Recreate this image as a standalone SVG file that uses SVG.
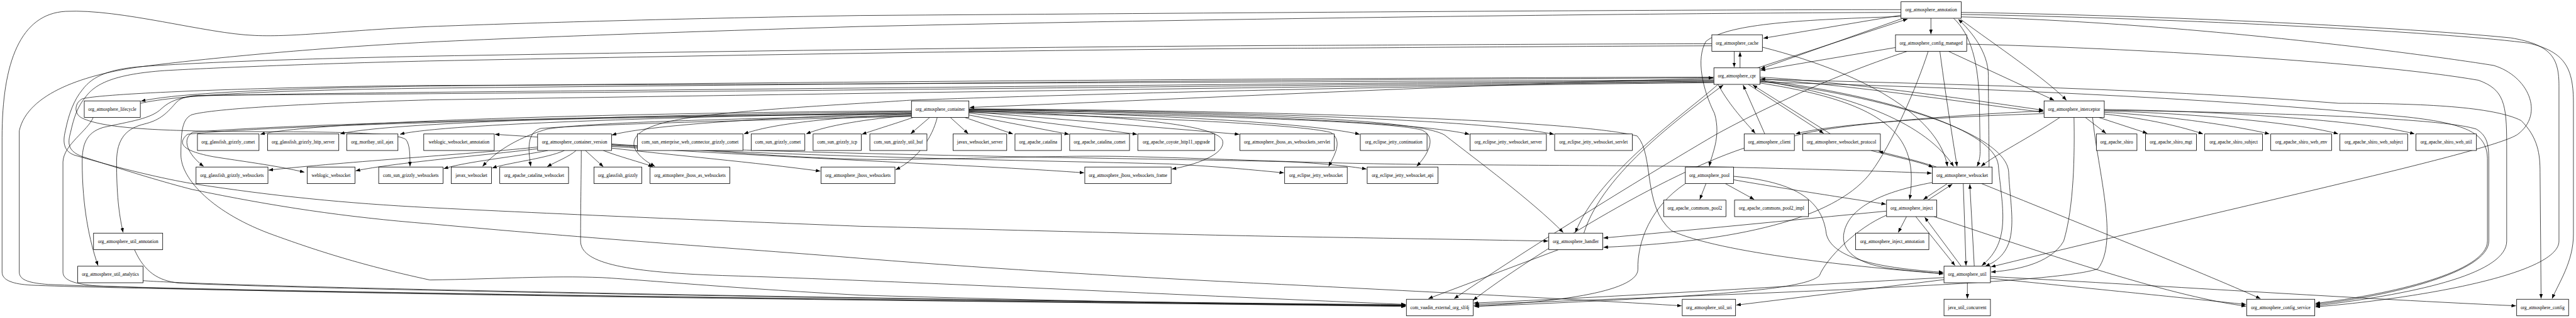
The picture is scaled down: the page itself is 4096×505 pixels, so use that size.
<svg xmlns="http://www.w3.org/2000/svg" width="4096" height="505" viewBox="0 0 4096 505">
<style>
#connectors path{fill:none;stroke:#000;stroke-width:1.3;marker-end:url(#a)}
.node rect{fill:#fff;stroke:#000;stroke-width:1.5}
.node text{font-family:"Liberation Serif","Times New Roman",serif;font-size:13.5px;text-anchor:middle;fill:#000}
</style>
<defs>
<marker id="a" markerUnits="userSpaceOnUse" markerWidth="14" markerHeight="10" refX="13" refY="5" orient="auto"><path d="M0,0 L13,5 L0,10 z" fill="#000"/></marker>
</defs>
<rect x="0" y="0" width="4096" height="505" fill="#fff"/>
<g transform="scale(0.5469)">
<g id="connectors">
<!-- container -->
<path d="M2650,322 C2100,325 950,345 757,390"/>
<path d="M2650,324 C2150,330 1150,348 989,389"/>
<path d="M2650,326 C2200,335 1300,355 1163,390"/>
<path d="M2650,329 C2300,338 1900,360 1779,392"/>
<path d="M2650,332 C2420,340 2240,360 2163,389"/>
<path d="M2650,335 C2520,345 2400,365 2344,389"/>
<path d="M2655,341 C2600,360 2540,378 2506,390"/>
<path d="M2703,341 L2648,388"/>
<path d="M2763,341 L2815,388"/>
<path d="M2805,341 L2945,389"/>
<path d="M2817,334 L3108,390"/>
<path d="M2817,328 L3306,390"/>
<path d="M2817,324 L3603,390"/>
<path d="M2817,321 C3300,330 3800,355 3953,390"/>
<path d="M2817,319 C3400,327 4100,350 4272,390"/>
<path d="M2817,317 C3500,322 4300,345 4518,390"/>
<path d="M2725,341 C2710,400 2670,460 2604,493"/>
<path d="M2817,322 C3250,335 3545,360 3555,410 C3562,450 3470,480 3407,491"/>
<path d="M2817,326 C3300,340 3780,360 3870,385 C3905,410 3880,450 3863,483"/>
<path d="M2817,323 C3500,335 4050,352 4135,378 C4180,400 4150,450 4119,483"/>
<path d="M2817,318 C3600,328 4120,345 4200,392 C4300,470 4450,580 4545,675"/>
<path d="M2817,316 C3800,322 4600,352 4760,395 C4810,450 4775,600 4860,670 C5000,735 5400,775 5650,795"/>
<path d="M2650,336 C2200,342 1700,355 1590,375 C1540,390 1460,420 1403,483"/>
<path d="M2650,338 C2200,348 1700,362 1572,373 C1532,385 1535,430 1543,483"/>
<path d="M2650,330 C2000,333 900,355 560,384 C520,410 560,460 592,483"/>
<path d="M2650,331 C1800,338 800,362 545,390 C510,420 540,440 620,455 C700,468 800,480 885,500"/>
<!-- container_version -->
<path d="M1563,398 L1439,390"/>
<path d="M1563,427 C1400,445 1000,470 781,494"/>
<path d="M1563,432 C1400,452 1150,472 1034,496"/>
<path d="M1593,437 C1500,455 1350,470 1290,490"/>
<path d="M1641,437 C1590,460 1480,472 1431,488"/>
<path d="M1675,437 C1655,455 1615,470 1591,484"/>
<path d="M1702,437 L1754,484"/>
<path d="M1754,437 C1800,455 1860,470 1898,484"/>
<path d="M1778,430 C1950,450 2200,472 2385,497"/>
<path d="M1690,437 C1690,500 1688,600 1688,700 C1688,760 1800,790 2100,800 C2600,815 3500,860 4087,884"/>
<path d="M1778,425 C2300,460 2900,482 3152,502"/>
<path d="M1778,422 C2300,455 3000,466 3400,476 C3550,484 3650,494 3733,502"/>
<path d="M1778,420 C2400,452 3500,462 3750,470 C3850,475 3920,482 3973,491"/>
<path d="M1778,418 C2100,440 2400,466 2600,463 C2900,460 3100,450 3300,455 C3600,462 3800,475 4200,478 C4600,481 4850,481 5050,486 C5300,492 5500,498 5616,503"/>
<!-- cpr long edges to the left -->
<path d="M4983,224 C4000,226 2600,236 1250,250 C800,256 500,272 410,294"/>
<path d="M408,300 C520,275 800,262 1250,256 C2600,242 4000,230 4981,226"/>
<path d="M4983,232 C4000,236 2600,244 1250,248 C800,252 300,270 239,287 C215,300 215,332 239,343 C300,372 450,380 700,382 C1000,383 1150,385 1180,405 C1192,420 1192,450 1192,483"/>
<path d="M4983,234 C4000,240 2600,255 1250,268 C900,272 600,276 558,280 C520,285 494,293 470,315 C440,345 380,352 300,370 C250,385 239,420 239,470 C239,600 260,700 285,771"/>
<path d="M4983,236 C4000,244 2600,262 1250,272 C900,275 650,276 574,277 C530,280 520,290 510,300 C480,335 460,350 420,360 C370,372 339,400 339,470 C339,560 345,620 358,675"/>
<path d="M4983,238 C4000,248 2600,270 1250,290 C900,300 620,315 558,333 C530,345 526,380 526,450 C526,520 620,620 797,683 C900,720 1036,767 1250,813 C1450,810 1600,800 1750,806 C1900,815 2100,835 2500,857 C3000,872 3500,882 4087,888"/>
<path d="M4983,228 C4400,240 3500,285 2819,312"/>
<path d="M4983,240 C4000,249 3000,278 2645,291 C2550,298 2300,310 2100,330 C1900,350 1830,380 1845,430 C1860,460 1890,475 1904,483"/>
<!-- cache / annotation loops -->
<path d="M4977,127 C4400,128 3900,132 3750,132 C3000,136 2000,150 1250,163 C900,170 600,180 415,193 C320,200 270,220 240,260 C215,290 200,330 190,380 C180,420 190,440 215,450 C350,490 480,520 558,533 C800,570 1000,590 1250,603 C1800,630 2200,645 2500,657 C3100,672 3500,683 3750,687 C4100,693 4350,697 4501,700"/>
<path d="M4977,133 C4400,135 3900,140 3750,140 C3000,145 2000,162 1250,177 C900,185 600,198 478,205 C340,215 280,240 250,280 C225,310 215,340 205,385 C195,420 200,440 240,455 C380,500 480,530 558,550 C800,600 1000,630 1250,650 C1800,700 2200,725 2500,750 C3000,790 3500,815 3750,827 C4200,850 4600,870 4889,888"/>
<path d="M5527,28 C4800,28 3500,38 2500,45 C1900,55 1500,68 1250,77 C1000,88 860,108 741,103 C600,98 350,25 191,33 C60,40 6,180 6,400 L6,790 C6,815 40,825 90,828 C500,845 2500,870 4087,890"/>
<path d="M5527,36 C4800,38 3500,55 2500,77 C1900,95 1500,110 1250,122 C900,140 600,170 415,193 C250,215 80,270 56,380 L56,790 C56,815 90,822 140,826 C600,845 2500,872 4087,886"/>
<path d="M271,341 C255,380 185,420 183,470 L183,790 C183,815 220,825 280,830 C700,850 2500,874 4087,888"/>
<path d="M391,725 C420,790 460,815 520,822 C900,840 2500,870 4087,885"/>
<path d="M416,815 C700,835 2500,868 4087,887"/>
<!-- right hub -->
<path d="M5527,44 L5127,111"/>
<path d="M5614,53 L5614,99"/>
<path d="M5533,53 L5119,200"/>
<path d="M5110,197 L5546,55"/>
<path d="M5511,138 L5119,204"/>
<path d="M5700,56 C5800,130 5950,230 6008,291"/>
<path d="M5665,149 L5972,291"/>
<path d="M5042,149 L5042,195"/>
<path d="M5059,197 L5059,151"/>
<path d="M4995,245 C5030,310 5080,360 5103,387"/>
<path d="M5131,389 L5068,247"/>
<path d="M5083,245 L5302,387"/>
<path d="M5322,389 L5096,247"/>
<path d="M5117,224 C5400,240 5800,300 5941,320"/>
<path d="M5943,326 C5800,310 5400,248 5119,229"/>
<path d="M5943,330 C5600,340 5300,365 5221,389"/>
<path d="M5217,395 C5300,368 5600,338 5941,322"/>
<path d="M6063,341 L6123,387"/>
<path d="M6102,341 L6243,387"/>
<path d="M6118,331 C6250,345 6350,370 6405,389"/>
<path d="M6118,326 C6300,336 6500,365 6598,389"/>
<path d="M6118,322 C6400,330 6700,360 6798,389"/>
<path d="M6118,318 C6500,323 6900,355 7020,389"/>
<path d="M6118,320 C6600,327 7100,342 7200,375 C7232,395 7236,420 7236,470 L7236,700 C7236,790 6950,860 6732,884"/>
<path d="M5718,128 C6200,140 6900,180 7206,233 C7280,260 7288,300 7288,420 L7288,700 C7288,790 7050,850 6732,888"/>
<path d="M5702,36 C6300,45 7000,80 7300,110 C7420,130 7440,170 7440,250 L7440,700 C7440,800 7000,870 6732,891"/>
<path d="M5702,42 C6300,52 7100,92 7350,125 C7460,150 7482,200 7482,300 L7482,680 C7482,760 7440,820 7420,867"/>
<path d="M5702,49 C6300,62 7000,150 7250,190 C7350,220 7400,330 7320,390 C7250,440 6500,600 5789,775"/>
<path d="M5117,238 C5700,255 6400,280 7000,340 C7180,360 7230,390 7232,460 L7232,700 C7232,790 6950,855 6732,881"/>
<path d="M5117,230 C5700,245 6300,260 6800,300 C7050,300 7250,310 7330,350 C7380,400 7385,450 7385,500 L7388,867"/>
<path d="M5787,803 C6200,825 6900,870 7315,888"/>
<path d="M5787,808 C6100,840 6350,865 6530,884"/>
<path d="M5761,533 C6000,630 6400,790 6572,867"/>
<path d="M5623,629 C5900,720 6300,860 6530,889"/>
<path d="M4960,533 L4942,579"/>
<path d="M5016,533 L5100,579"/>
<path d="M5040,522 C5200,550 5400,580 5483,593"/>
<path d="M5040,512 C5250,530 5300,600 5310,680 C5330,760 5500,780 5650,791"/>
<path d="M4900,533 C4800,600 4760,700 4762,783 C4760,850 4500,880 4285,888"/>
<path d="M5662,533 L5592,579"/>
<path d="M5605,581 L5676,535"/>
<path d="M5708,533 L5716,771"/>
<path d="M5740,773 L5727,535"/>
<path d="M5570,629 L5684,771"/>
<path d="M5702,773 L5596,631"/>
<path d="M5543,629 L5519,675"/>
<path d="M5720,821 L5720,867"/>
<path d="M5652,812 L5048,886"/>
<path d="M5652,806 C5200,830 4700,862 4285,880"/>
<path d="M5618,530 C5480,555 5370,600 5360,683 C5355,740 5420,770 5500,780 C5570,788 5620,792 5650,795"/>
<path d="M5485,625 C5400,660 5310,750 5290,800 C5250,840 5000,860 4287,890"/>
<path d="M5485,613 C5200,640 4900,670 4662,691"/>
<path d="M6030,341 C6032,450 6030,600 6000,700 C5960,770 5850,785 5789,790"/>
<path d="M6084,341 C6100,500 6160,700 6100,780 C6000,820 5300,845 4287,884"/>
<path d="M5989,341 C5900,400 5800,450 5760,483"/>
<path d="M5630,485 C5560,462 5500,450 5462,439"/>
<path d="M5440,437 C5520,458 5590,472 5620,486"/>
<path d="M5071,430 C4800,520 4400,780 4283,872"/>
<path d="M5124,137 C5450,220 5640,350 5662,483"/>
<path d="M5640,149 C5660,300 5680,420 5690,483"/>
<path d="M5545,149 C5300,230 5100,330 4990,390 C4700,560 4400,750 4228,867"/>
<path d="M5606,149 C5574,250 5500,420 5440,500 C5350,620 5100,700 4662,718"/>
<path d="M4995,245 C4900,330 4650,500 4580,675"/>
<path d="M4605,677 C4660,500 4900,330 5010,247"/>
<path d="M4531,725 L4153,867"/>
<path d="M5527,48 C5200,58 5020,72 4960,120 C4930,170 4950,260 4985,330 C5005,400 4975,450 4970,483"/>
<path d="M5117,241 C5500,300 5580,400 5552,579"/>
<path d="M5117,232 C5500,280 5800,380 5810,480 C5820,600 5850,700 5762,771"/>
<path d="M5117,236 C5550,290 5835,400 5840,500 C5845,620 5880,730 5772,773"/>
<path d="M5117,234 C5400,280 5600,360 5680,483"/>
<path d="M5680,53 C5730,100 5752,180 5755,300 L5757,440 C5757,460 5752,475 5748,483"/>
<path d="M5783,485 C5783,420 5781,300 5781,220 C5781,150 5730,90 5694,56"/>
</g>
<g id="n_lifecycle" class="node"><rect x="245" y="293" width="163" height="48"/><text x="326.5" y="321.5">org_atmosphere_lifecycle</text></g>
<g id="n_gg_comet" class="node"><rect x="574" y="389" width="179" height="48"/><text x="663.5" y="417.5">org_glassfish_grizzly_comet</text></g>
<g id="n_gg_http" class="node"><rect x="778" y="389" width="207" height="48"/><text x="881.5" y="417.5">org_glassfish_grizzly_http_server</text></g>
<g id="n_mortbay" class="node"><rect x="1008" y="389" width="149" height="48"/><text x="1082.5" y="417.5">org_mortbay_util_ajax</text></g>
<g id="n_wl_annot" class="node"><rect x="1232" y="389" width="205" height="48"/><text x="1334.5" y="417.5">weblogic_websocket_annotation</text></g>
<g id="n_cversion" class="node"><rect x="1563" y="389" width="215" height="48"/><text x="1670.5" y="417.5">org_atmosphere_container_version</text></g>
<g id="n_cs_ent" class="node"><rect x="1853" y="389" width="307" height="48"/><text x="2006.5" y="417.5">com_sun_enterprise_web_connector_grizzly_comet</text></g>
<g id="n_cs_comet" class="node"><rect x="2184" y="389" width="156" height="48"/><text x="2262" y="417.5">com_sun_grizzly_comet</text></g>
<g id="n_cs_tcp" class="node"><rect x="2364" y="389" width="140" height="48"/><text x="2434" y="417.5">com_sun_grizzly_tcp</text></g>
<g id="n_cs_buf" class="node"><rect x="2529" y="389" width="166" height="48"/><text x="2612" y="417.5">com_sun_grizzly_util_buf</text></g>
<g id="n_jx_wss" class="node"><rect x="2771" y="389" width="156" height="48"/><text x="2849" y="417.5">javax_websocket_server</text></g>
<g id="n_catalina" class="node"><rect x="2951" y="389" width="135" height="48"/><text x="3018.5" y="417.5">org_apache_catalina</text></g>
<g id="n_cat_comet" class="node"><rect x="3110" y="389" width="174" height="48"/><text x="3197" y="417.5">org_apache_catalina_comet</text></g>
<g id="n_coyote" class="node"><rect x="3308" y="389" width="224" height="48"/><text x="3420" y="417.5">org_apache_coyote_http11_upgrade</text></g>
<g id="n_jbas_servlet" class="node"><rect x="3605" y="389" width="274" height="48"/><text x="3742" y="417.5">org_atmosphere_jboss_as_websockets_servlet</text></g>
<g id="n_jetty_cont" class="node"><rect x="3955" y="389" width="194" height="48"/><text x="4052" y="417.5">org_eclipse_jetty_continuation</text></g>
<g id="n_jetty_wss" class="node"><rect x="4274" y="389" width="222" height="48"/><text x="4385" y="417.5">org_eclipse_jetty_websocket_server</text></g>
<g id="n_jetty_wsservlet" class="node"><rect x="4520" y="389" width="226" height="48"/><text x="4633" y="417.5">org_eclipse_jetty_websocket_servlet</text></g>
<g id="n_container" class="node"><rect x="2650" y="293" width="167" height="48"/><text x="2733.5" y="321.5">org_atmosphere_container</text></g>
<g id="n_gg_ws" class="node"><rect x="570" y="485" width="209" height="48"/><text x="674.5" y="513.5">org_glassfish_grizzly_websockets</text></g>
<g id="n_wl_ws" class="node"><rect x="893" y="485" width="139" height="48"/><text x="962.5" y="513.5">weblogic_websocket</text></g>
<g id="n_cs_ws" class="node"><rect x="1101" y="485" width="187" height="48"/><text x="1194.5" y="513.5">com_sun_grizzly_websockets</text></g>
<g id="n_jx_ws" class="node"><rect x="1312" y="485" width="117" height="48"/><text x="1370.5" y="513.5">javax_websocket</text></g>
<g id="n_cat_ws" class="node"><rect x="1453" y="485" width="200" height="48"/><text x="1553" y="513.5">org_apache_catalina_websocket</text></g>
<g id="n_gg" class="node"><rect x="1727" y="485" width="139" height="48"/><text x="1796.5" y="513.5">org_glassfish_grizzly</text></g>
<g id="n_jbas_ws" class="node"><rect x="1890" y="485" width="232" height="48"/><text x="2006" y="513.5">org_atmosphere_jboss_as_websockets</text></g>
<g id="n_jb_ws" class="node"><rect x="2387" y="485" width="215" height="48"/><text x="2494.5" y="513.5">org_atmosphere_jboss_websockets</text></g>
<g id="n_jb_frame" class="node"><rect x="3154" y="485" width="251" height="48"/><text x="3279.5" y="513.5">org_atmosphere_jboss_websockets_frame</text></g>
<g id="n_jetty_ws" class="node"><rect x="3735" y="485" width="182" height="48"/><text x="3826" y="513.5">org_eclipse_jetty_websocket</text></g>
<g id="n_jetty_api" class="node"><rect x="3975" y="485" width="206" height="48"/><text x="4078" y="513.5">org_eclipse_jetty_websocket_api</text></g>
<g id="n_pool" class="node"><rect x="4900" y="485" width="140" height="48"/><text x="4970" y="513.5">org_atmosphere_pool</text></g>
<g id="n_websocket" class="node"><rect x="5618" y="485" width="174" height="48"/><text x="5705" y="513.5">org_atmosphere_websocket</text></g>
<g id="n_u_annot" class="node"><rect x="272" y="677" width="201" height="48"/><text x="372.5" y="705.5">org_atmosphere_util_annotation</text></g>
<g id="n_u_analytics" class="node"><rect x="226" y="773" width="190" height="48"/><text x="321" y="801.5">org_atmosphere_util_analytics</text></g>
<g id="n_handler" class="node"><rect x="4503" y="677" width="157" height="48"/><text x="4581.5" y="705.5">org_atmosphere_handler</text></g>
<g id="n_inject_annot" class="node"><rect x="5395" y="677" width="213" height="48"/><text x="5501.5" y="705.5">org_atmosphere_inject_annotation</text></g>
<g id="n_slf4j" class="node"><rect x="4089" y="869" width="194" height="48"/><text x="4186" y="897.5">com_vaadin_external_org_slf4j</text></g>
<g id="n_u_uri" class="node"><rect x="4891" y="869" width="155" height="48"/><text x="4968.5" y="897.5">org_atmosphere_util_uri</text></g>
<g id="n_juc" class="node"><rect x="5652" y="869" width="135" height="48"/><text x="5719.5" y="897.5">java_util_concurrent</text></g>
<g id="n_config_service" class="node"><rect x="6532" y="869" width="198" height="48"/><text x="6631" y="897.5">org_atmosphere_config_service</text></g>
<g id="n_config" class="node"><rect x="7317" y="869" width="151" height="48"/><text x="7392.5" y="897.5">org_atmosphere_config</text></g>
<g id="n_annotation" class="node"><rect x="5527" y="5" width="175" height="48"/><text x="5614.5" y="33.5">org_atmosphere_annotation</text></g>
<g id="n_cmanaged" class="node"><rect x="5511" y="101" width="207" height="48"/><text x="5614.5" y="129.5">org_atmosphere_config_managed</text></g>
<g id="n_cache" class="node"><rect x="4977" y="101" width="147" height="48"/><text x="5050.5" y="129.5">org_atmosphere_cache</text></g>
<g id="n_cpr" class="node"><rect x="4983" y="197" width="134" height="48"/><text x="5050" y="225.5">org_atmosphere_cpr</text></g>
<g id="n_interceptor" class="node"><rect x="5943" y="293" width="175" height="48"/><text x="6030.5" y="321.5">org_atmosphere_interceptor</text></g>
<g id="n_client" class="node"><rect x="5071" y="389" width="146" height="48"/><text x="5144" y="417.5">org_atmosphere_client</text></g>
<g id="n_wsproto" class="node"><rect x="5241" y="389" width="226" height="48"/><text x="5354" y="417.5">org_atmosphere_websocket_protocol</text></g>
<g id="n_shiro" class="node"><rect x="6095" y="389" width="118" height="48"/><text x="6154" y="417.5">org_apache_shiro</text></g>
<g id="n_shiro_mgt" class="node"><rect x="6238" y="389" width="148" height="48"/><text x="6312" y="417.5">org_apache_shiro_mgt</text></g>
<g id="n_shiro_subject" class="node"><rect x="6410" y="389" width="168" height="48"/><text x="6494" y="417.5">org_apache_shiro_subject</text></g>
<g id="n_shiro_web_env" class="node"><rect x="6602" y="389" width="177" height="48"/><text x="6690.5" y="417.5">org_apache_shiro_web_env</text></g>
<g id="n_shiro_web_subject" class="node"><rect x="6803" y="389" width="197" height="48"/><text x="6901.5" y="417.5">org_apache_shiro_web_subject</text></g>
<g id="n_shiro_web_util" class="node"><rect x="7024" y="389" width="176" height="48"/><text x="7112" y="417.5">org_apache_shiro_web_util</text></g>
<g id="n_cp2" class="node"><rect x="4837" y="581" width="181" height="48"/><text x="4927.5" y="609.5">org_apache_commons_pool2</text></g>
<g id="n_cp2_impl" class="node"><rect x="5043" y="581" width="215" height="48"/><text x="5150.5" y="609.5">org_apache_commons_pool2_impl</text></g>
<g id="n_inject" class="node"><rect x="5485" y="581" width="146" height="48"/><text x="5558" y="609.5">org_atmosphere_inject</text></g>
<g id="n_util" class="node"><rect x="5652" y="773" width="135" height="48"/><text x="5719.5" y="801.5">org_atmosphere_util</text></g>
</g>
</svg>
